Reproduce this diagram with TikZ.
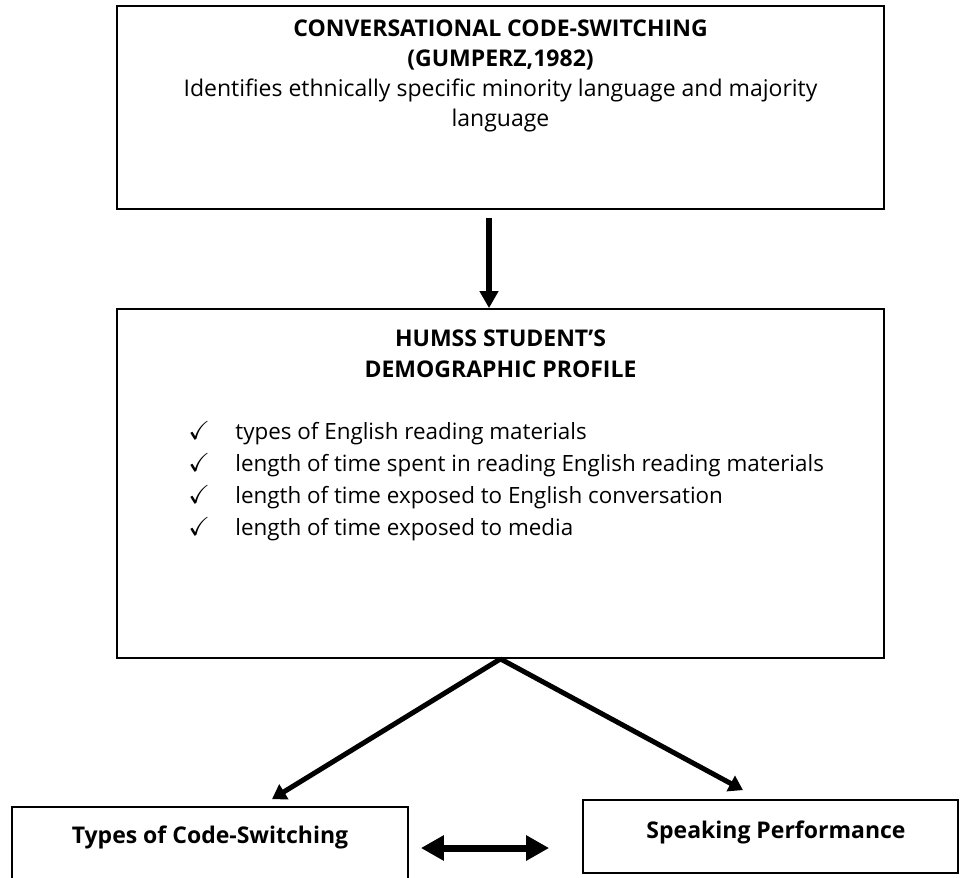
\documentclass[tikz,border=0pt]{standalone}
\usepackage{amssymb}
\usepackage{fontspec}
\setmainfont{Open Sans}
\usetikzlibrary{arrows.meta}

\newcommand{\tick}{\makebox[23.5pt][l]{\fontsize{13}{13}\selectfont$\checkmark$}}

\begin{document}
\begin{tikzpicture}[x=0.5pt, y=-0.5pt, >={Triangle[length=8.5pt, width=9pt]},
    box/.style={draw, line width=0.9pt, inner sep=0pt},
    bigarrow/.style={->, line width=3pt},
    sidearrow/.style={-{Triangle[length=7pt, width=8.5pt]}, line width=2.5pt},
    bothways/.style={{Triangle[length=11.5pt, width=12pt]}-{Triangle[length=11.5pt, width=12pt]}, line width=3.5pt},
    txt/.style={font=\fontsize{11.5}{15}\selectfont, align=center, inner sep=0pt},
    label/.style={font=\fontsize{11.5}{14}\selectfont\bfseries, inner sep=0pt}]
    \useasboundingbox (0,0) rectangle (961,877);

    % Theory box
    \node[box, minimum width=383.5pt, minimum height=101.5pt] (theory) at (500.5,107.5) {};
    \node[txt, anchor=north] (theorytxt) at (500.5,19)
        {\textbf{CONVERSATIONAL CODE-SWITCHING}\\ \textbf{(GUMPERZ,1982)}\\
         Identifies ethnically specific minority language and majority\\ language};

    % Profile box
    \node[box, minimum width=383.5pt, minimum height=174.5pt] (profile) at (500.5,483.5) {};
    \node[txt, anchor=north, font=\fontsize{11.5}{15.5}\selectfont\bfseries] (profiletitle) at (500.5,329)
        {HUMSS STUDENT'S\\ DEMOGRAPHIC PROFILE};
    \node[txt, anchor=north west, align=left, font=\fontsize{11.2}{16}\selectfont] (profilelist) at (188,421)
        {\tick types of English reading materials\\
         \tick length of time spent in reading English reading materials\\
         \tick length of time exposed to English conversation\\
         \tick length of time exposed to media};

    % Bottom boxes
    \node[box, minimum width=198pt, minimum height=41pt] (types) at (210,848) {};
    \node[label] (typestxt) at (210,837) {Types of Code-Switching};
    \node[box, minimum width=187.5pt, minimum height=36.5pt] (speaking) at (770.5,836.5) {};
    \node[label] (speakingtxt) at (776,832) {Speaking Performance};

    % Arrows
    \draw[bigarrow] ([xshift=-5.75pt, yshift=-4pt]theory.south) -- ([xshift=-5.75pt]profile.north);
    \draw[sidearrow] (profile.south) -- ([xshift=31pt, yshift=3.5pt]types.north);
    \draw[sidearrow] (profile.south) -- ([xshift=-13.75pt, yshift=4.5pt]speaking.north);
    \draw[bothways] ([xshift=6pt]types.east) -- ([xshift=-16.5pt]speaking.west |- types.east);
\end{tikzpicture}
\end{document}
